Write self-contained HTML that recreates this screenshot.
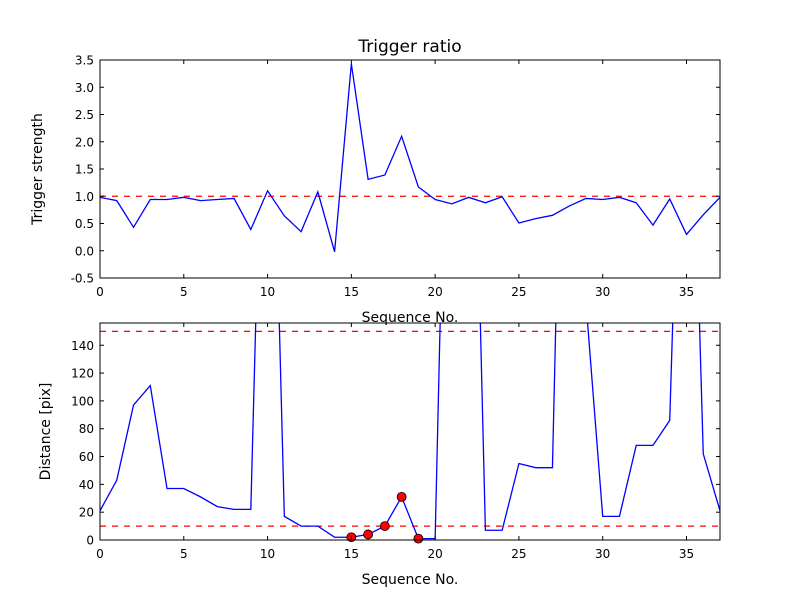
<!DOCTYPE html>
<html><head><meta charset="utf-8"><style>
body{margin:0;background:#fff}
svg{display:block;font-family:"DejaVu Sans","Liberation Sans",sans-serif}
</style></head><body>
<svg id="c" width="800" height="600"></svg>
<script>
const seq = Array.from({length:38},(_,i)=>i);
const ratio = [0.98,0.92,0.43,0.94,0.94,0.98,0.92,0.94,0.96,0.39,1.10,0.64,0.35,1.08,-0.02,3.43,1.31,1.39,2.10,1.17,0.94,0.86,0.98,0.88,0.99,0.51,0.59,0.65,0.82,0.96,0.94,0.98,0.88,0.47,0.95,0.30,0.66,0.98];
const dist = [21,43,97,111,37,37,31,24,22,22,480,17,10,10,2,2,4,10,31,1,1,520,500,7,7,55,52,52,570,171,17,17,68,68,86,480,62,21];
const flaggedIdx = [15,16,17,18,19];
const ratioThreshold = [1.0];
const distThresholds = [10,150];
const xTicks = [0,5,10,15,20,25,30,35];
const ratioTicks = [-0.5,0,0.5,1,1.5,2,2.5,3,3.5];
const distTicks = [0,20,40,60,80,100,120,140];

const svg=document.getElementById('c');
const NS='http://www.w3.org/2000/svg';
function mk(t,a,p){const e=document.createElementNS(NS,t);for(const k in a)e.setAttribute(k,a[k]);(p||svg).appendChild(e);return e;}

function panel(name,top,bot,ymin,ymax,yt,fmt,ylab,title){
  const L=100,R=720;
  const sx=v=>L+(v-0)/(37-0)*(R-L);
  const sy=v=>bot-(v-ymin)/(ymax-ymin)*(bot-top);
  const g=mk('g',{});
  
  
  const cid='clip'+name;
  const cp=mk('clipPath',{id:cid},g);mk('rect',{x:L,y:top,width:R-L,height:bot-top},cp);
  return {g,sx,sy,L,R,top,bot,cid,finish(){
    const fr=mk('rect',{x:L,y:top,width:R-L,height:bot-top,fill:'none',stroke:'#000','stroke-width':1},g);
    
    
    xTicks.forEach(v=>{const x=sx(v);
      mk('line',{x1:x,x2:x,y1:bot,y2:bot-4,stroke:'#000'},g);
      mk('line',{x1:x,x2:x,y1:top,y2:top+4,stroke:'#000'},g);
      const t=mk('text',{x:x,y:bot+18,'text-anchor':'middle','font-size':12},g);t.textContent=v;
      
      
    });
    yt.forEach(v=>{const y=sy(v);
      mk('line',{x1:L,x2:L+4,y1:y,y2:y,stroke:'#000'},g);
      mk('line',{x1:R,x2:R-4,y1:y,y2:y,stroke:'#000'},g);
      const t=mk('text',{x:L-6,y:y+4.5,'text-anchor':'end','font-size':12},g);t.textContent=fmt(v);
      
      
    });
    const xl=mk('text',{x:(L+R)/2,y:bot+44,'text-anchor':'middle','font-size':14},g);xl.textContent='Sequence No.';
    
    
    const yl=mk('text',{x:0,y:0,'text-anchor':'middle','font-size':14,transform:`translate(${name==='ratio'?42:50},${(top+bot)/2}) rotate(-90)`},g);yl.textContent=ylab;
    
    
    if(title){const tt=mk('text',{x:(L+R)/2,y:top-8,'text-anchor':'middle','font-size':17},g);tt.textContent=title;
      
      }
  }};
}

const p1=panel('ratio',60,278,-0.5,3.5,ratioTicks,v=>v.toFixed(1),'Trigger strength','Trigger ratio');
ratioThreshold.forEach(v=>{const l=mk('line',{x1:p1.L,x2:p1.R,y1:p1.sy(v),y2:p1.sy(v),stroke:'red','stroke-width':1.3,'stroke-dasharray':'6,6'},p1.g);
  
  });
const l1=mk('polyline',{points:seq.map((s,i)=>p1.sx(s)+','+p1.sy(ratio[i])).join(' '),fill:'none',stroke:'blue','stroke-width':1.3,'clip-path':`url(#${p1.cid})`},p1.g);


p1.finish();

const p2=panel('distance',323,540,0,156,distTicks,v=>String(v),'Distance [pix]',null);
distThresholds.forEach(v=>{const l=mk('line',{x1:p2.L,x2:p2.R,y1:p2.sy(v),y2:p2.sy(v),stroke:'red','stroke-width':1.3,'stroke-dasharray':'6,6'},p2.g);
  
  });
const l2=mk('polyline',{points:seq.map((s,i)=>p2.sx(s)+','+p2.sy(dist[i])).join(' '),fill:'none',stroke:'blue','stroke-width':1.3,'clip-path':`url(#${p2.cid})`},p2.g);


flaggedIdx.forEach(i=>{const c=mk('circle',{cx:p2.sx(seq[i]),cy:p2.sy(dist[i]),r:4.5,fill:'red',stroke:'#000','stroke-width':0.8},p2.g);
  
  });
p2.finish();
</script>
</body></html>
